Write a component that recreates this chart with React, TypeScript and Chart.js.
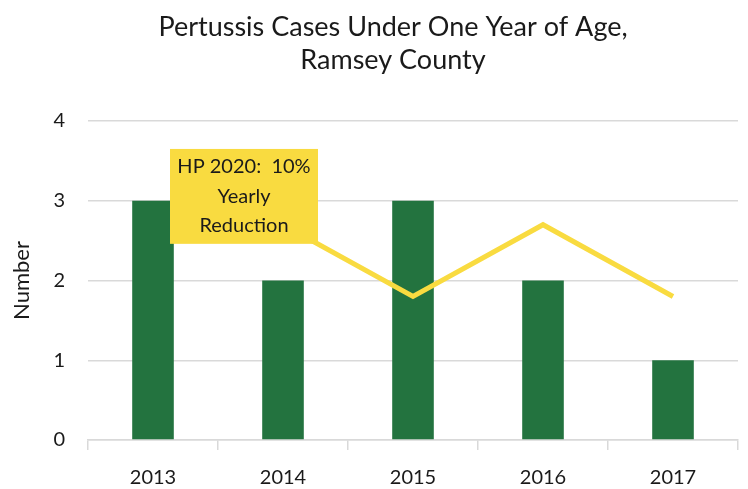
import React, { useEffect, useRef } from "react";
import { Chart, registerables } from "chart.js";

Chart.register(...registerables);

const categories = ["2013", "2014", "2015", "2016", "2017"];
const casesValues = [3, 2, 3, 2, 1];
const targetValues: (number | null)[] = [null, 2.7, 1.8, 2.7, 1.8];
const titleLines = ["Pertussis Cases Under One Year of Age,", "Ramsey County"];
const annotationLines = ["HP 2020:  10%", "Yearly", "Reduction"];
const yTicks = [0, 1, 2, 3, 4];

const FONT = "Lato, 'Open Sans', sans-serif";
const GREEN = "#23733F";
const YELLOW = "#F9DB40";
const TITLE_SIZE = 27;
const TITLE_LH = 33;

const annotationPlugin = {
  id: "hpAnnotation",
  afterDatasetsDraw(chart: any) {
    const { ctx, scales } = chart;
    const xs = scales.x;
    const ys = scales.y;
    const left = xs.getPixelForValue(0) + 17;
    const right = xs.getPixelForValue(1) + 35;
    const top = ys.getPixelForValue(3.65);
    const bottom = ys.getPixelForValue(2.46);
    ctx.save();
    ctx.fillStyle = YELLOW;
    ctx.fillRect(left, top, right - left, bottom - top);
    ctx.fillStyle = "#1a1a1a";
    ctx.font = `20px ${FONT}`;
    ctx.textAlign = "center";
    ctx.textBaseline = "middle";
    const cx = (left + right) / 2;
    const lh = 29.5;
    const midY = (top + bottom) / 2;
    annotationLines.forEach((t, i) => {
      ctx.fillText(t, cx, midY + (i - 1) * lh);
    });
    ctx.restore();
  },
};

const titlePlugin = {
  id: "customTitle",
  afterDraw(chart: any) {
    const { ctx, chartArea } = chart;
    const cx = (chartArea.left + chartArea.right) / 2 - 20;
    ctx.save();
    ctx.fillStyle = "#1a1a1a";
    ctx.font = `${TITLE_SIZE}px ${FONT}`;
    ctx.textAlign = "center";
    ctx.textBaseline = "middle";
    titleLines.forEach((t, i) => {
      ctx.fillText(t, cx, 27 + i * TITLE_LH);
    });
    ctx.restore();
  },
};

export default function App() {
  const ref = useRef<HTMLCanvasElement>(null);
  useEffect(() => {
    document.body.style.margin = "0";
    const chart = new Chart(ref.current!, {
      type: "bar",
      data: {
        labels: categories,
        datasets: [
          {
            type: "line",
            label: "HP 2020 target",
            data: targetValues,
            borderColor: YELLOW,
            backgroundColor: YELLOW,
            borderWidth: 5,
            pointRadius: 0,
            tension: 0,
            order: 1,
          } as any,
          {
            type: "bar",
            label: "Cases",
            data: casesValues,
            backgroundColor: GREEN,
            categoryPercentage: 1,
            barPercentage: 0.32,
            order: 2,
          },
        ],
      },
      options: {
        animation: false,
        responsive: false,
        maintainAspectRatio: false,
        layout: { padding: { left: 8, right: 10, top: 0, bottom: 4 } },
        plugins: {
          legend: { display: false },
          tooltip: { enabled: false },
          title: {
            display: true,
            text: titleLines,
            color: "rgba(0,0,0,0)",
            font: { family: FONT, size: 26, weight: "normal", lineHeight: 1.27 },
            padding: { top: 10, bottom: 45 },
          },
        },
        scales: {
          x: {
            afterFit: (s: any) => {
              s.height = 45;
            },
            grid: {
              offset: true,
              drawOnChartArea: false,
              drawTicks: true,
              tickLength: 10,
              color: "#d9d9d9",
              lineWidth: 1.5,
            },
            border: { display: true, color: "#d9d9d9", width: 1.5 },
            ticks: {
              color: "#1a1a1a",
              font: { family: FONT, size: 20, lineHeight: 1 },
              padding: 18,
            },
          },
          y: {
            min: 0,
            max: 4,
            afterFit: (s: any) => {
              s.width = 80;
            },
            afterBuildTicks: (s: any) => {
              s.ticks = yTicks.map((v) => ({ value: v }));
            },
            grid: { color: "#d9d9d9", drawTicks: false, lineWidth: 1.5 },
            border: { display: false },
            ticks: {
              color: "#1a1a1a",
              font: { family: FONT, size: 20 },
              padding: 23,
            },
            title: {
              display: true,
              text: "Number",
              color: "#1a1a1a",
              font: { family: FONT, size: 22 },
              padding: { top: 1, bottom: 0 },
            },
          },
        },
      },
      plugins: [annotationPlugin, titlePlugin],
    });
    return () => chart.destroy();
  }, []);
  return (
    <div style={{ width: 748, height: 489 }}>
      <canvas ref={ref} width={748} height={489} style={{ display: "block" }} />
    </div>
  );
}
